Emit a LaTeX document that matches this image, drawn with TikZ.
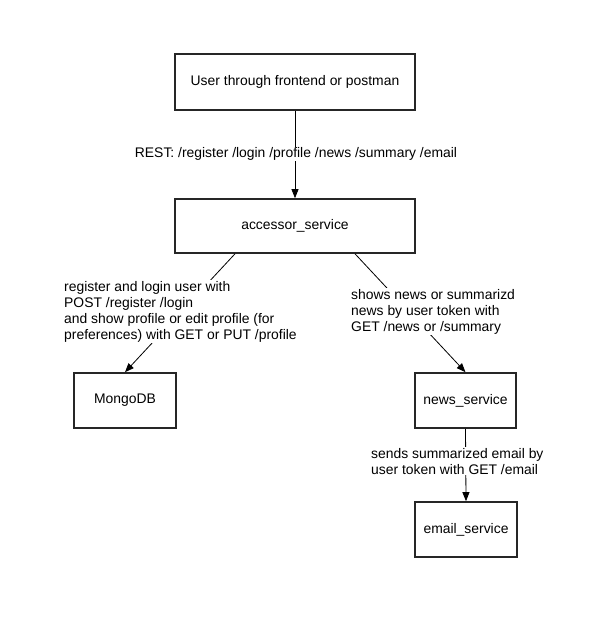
\documentclass[tikz,border=0pt]{standalone}
\usepackage{fontspec}
\setmainfont{Liberation Sans}
\usetikzlibrary{calc,arrows.meta}
\begin{document}
\begin{tikzpicture}[x=1pt,y=-1pt,
  box/.style={draw=black!85,line width=1.6pt,fill=white,inner sep=0pt,
    font=\fontsize{13.9}{16}\selectfont},
  conn/.style={draw=black,line width=0.8pt,-{Triangle[length=9pt,width=7pt]}},
  lbl/.style={fill=white,inner sep=1pt,font=\fontsize{13.9}{16}\selectfont,align=left}]
\useasboundingbox (0,0) rectangle (612,617);
\fill[white] (0,0) rectangle (612,617);
\node[box,minimum width=240pt,minimum height=56pt] (user) at (295,82) {User through frontend or postman};
\node[box,minimum width=240pt,minimum height=54pt] (acc) at (295,226) {accessor\_service};
\node[box,minimum width=102pt,minimum height=55pt] (mongo) at (125,400.5) {MongoDB};
\node[box,minimum width=101pt,minimum height=55pt] (news) at (465.5,400.5) {news\_service};
\node[box,minimum width=102pt,minimum height=55pt] (email) at (466,529.5) {email\_service};
\draw[conn] (user.south) -- (acc.north);
\draw[conn] ($(acc.south)+(-60,0)$) -- (mongo.north);
\draw[conn] ($(acc.south)+(60,0)$) -- (news.north);
\draw[conn] (news.south) -- (email.north);
\node[lbl,anchor=center] (l1) at (296,154) {REST: /register /login /profile /news /summary /email};
\node[lbl,anchor=north west] (l2) at (63,280) {register and login user with\\POST /register /login\\and show profile or edit profile (for\\preferences) with GET or PUT /profile};
\node[lbl,anchor=north west] (l3) at (350,288) {shows news or summarizd\\news by user token with\\GET /news or /summary};
\node[lbl,anchor=north west] (l4) at (370,447) {sends summarized email by\\user token with GET /email};
\end{tikzpicture}
\end{document}
